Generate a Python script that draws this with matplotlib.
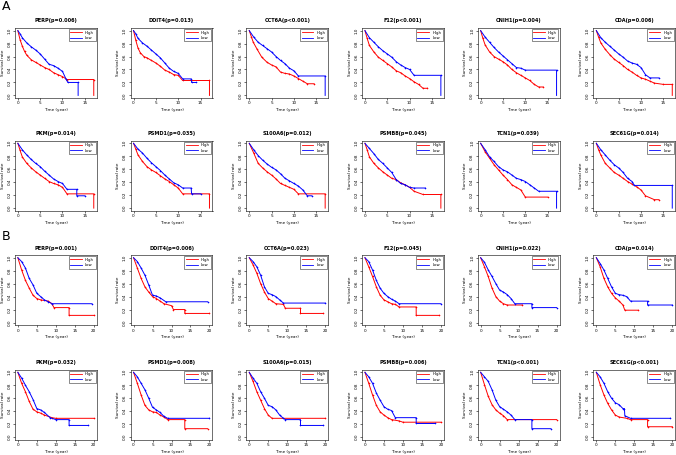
"""Kaplan-Meier survival panels for the twelve genes (A: training set, B: validation set)."""

import matplotlib.pyplot as plt
from matplotlib.lines import Line2D

# ---- panel titles -------------------------------------------------------
A_TITLES = ["PERP(p=0.006)", "DDIT4(p=0.013)", "CCT6A(p<0.001)", "F12(p<0.001)",
            "CNIH1(p=0.004)", "CDA(p=0.006)", "PKM(p=0.014)", "PSMD1(p=0.035)",
            "S100A6(p=0.012)", "PSMB8(p=0.045)", "TCN1(p=0.039)", "SEC61G(p=0.014)"]
B_TITLES = ["PERP(p=0.001)", "DDIT4(p=0.006)", "CCT6A(p=0.023)", "F12(p=0.045)",
            "CNIH1(p=0.022)", "CDA(p=0.014)", "PKM(p=0.032)", "PSMD1(p=0.008)",
            "S100A6(p=0.015)", "PSMB8(p=0.006)", "TCN1(p<0.001)", "SEC61G(p<0.001)"]

# ---- survival curves: (time in years, survival) -------------------------
# a repeated time means a vertical drop
a_perp_high = [(0, 1), (0.5, .86), (1, .76), (1.5, .68), (2, .62), (3, .55), (4, .51), (5, .47), (6, .43),
               (7, .40), (8, .35), (9, .32), (10, .29), (11, .245), (17, .245), (17, 0)]
a_perp_low = [(0, 1), (0.5, .95), (1, .89), (2, .81), (3, .75), (4, .70), (5, .64), (6, .56), (7, .48),
              (8, .46), (9, .42), (10, .37), (10.8, .25), (11.2, .20), (13.5, .20), (13.5, 0)]
a_ddit4_high = [(0, 1), (0.5, .85), (1, .73), (1.5, .66), (2.3, .60), (3, .58), (4, .54), (5, .50), (6, .45),
                (7, .39), (8, .36), (9, .32), (10, .31), (11, .23), (17, .23), (17, 0)]
a_ddit4_low = [(0, 1), (0.5, .95), (1, .88), (2, .81), (3, .76), (4, .70), (5, .64), (6, .58), (7, .50),
               (8, .42), (9, .37), (10, .34), (11, .255), (12.9, .255), (13, .20), (14, .20)]
a_cct6a_high = [(0, 1), (0.5, .90), (0.9, .82), (1.7, .72), (2.8, .59), (4, .51), (5, .47), (6, .44), (7, .36),
                (8, .34), (9, .33), (10, .30), (11, .26), (12, .22), (13, .18), (14.5, .18)]
a_cct6a_low = [(0, 1), (1, .90), (2, .82), (3, .77), (4, .72), (5, .67), (6, .60), (7, .54), (8, .49),
               (9, .42), (10, .38), (11, .30), (17, .30), (17, 0)]
a_f12_high = [(0, 1), (0.5, .88), (1, .77), (2, .67), (3, .59), (4, .54), (5, .49), (6, .44), (7, .38),
              (8, .35), (9, .30), (10, .26), (11, .21), (12, .17), (13, .11), (14, .11)]
a_f12_low = [(0, 1), (1, .89), (2, .82), (3, .75), (4, .69), (5, .64), (6, .59), (7, .52), (8, .47),
             (9, .43), (10, .40), (11, .31), (17, .31), (17, 0)]
a_cnih1_high = [(0, 1), (0.5, .88), (1, .78), (2, .67), (3, .60), (4, .56), (5, .52), (6, .47), (7, .40),
                (8, .35), (9, .31), (10, .27), (11, .23), (12, .17), (13, .13), (14, .13)]
a_cnih1_low = [(0, 1), (1, .90), (2, .82), (3, .74), (4, .67), (5, .61), (6, .55), (7, .49), (8, .43),
               (9, .42), (10, .39), (17, .39), (17, 0)]
a_cda_high = [(0, 1), (0.5, .90), (1, .81), (2, .71), (3, .63), (4, .56), (5, .51), (6, .46), (7, .40),
              (8, .36), (9, .31), (10, .27), (11, .25), (12, .22), (13, .19), (15, .17), (17, .17), (17, 0)]
a_cda_low = [(0, 1), (1, .89), (2, .82), (3, .76), (4, .70), (5, .64), (6, .59), (7, .53), (8, .50),
             (9, .48), (10, .43), (11, .32), (12, .27), (14, .27)]
a_pkm_high = [(0, 1), (0.5, .89), (1, .79), (2, .69), (3, .62), (4, .56), (5, .51), (6, .46), (7, .41),
              (8, .38), (9, .36), (10, .32), (11, .22), (17, .22), (17, 0)]
a_pkm_low = [(0, 1), (1, .90), (2, .82), (3, .75), (4, .69), (5, .64), (6, .57), (7, .51), (8, .45),
             (9, .41), (10, .38), (11, .29), (13.2, .29), (13.2, .19), (15, .19)]
a_psmd1_high = [(0, 1), (0.5, .91), (1, .82), (2, .72), (3, .64), (4, .59), (5, .55), (6, .50), (7, .45),
                (8, .41), (9, .36), (10, .31), (11, .22), (17, .22), (17, 0)]
a_psmd1_low = [(0, 1), (1, .91), (2, .85), (3, .77), (4, .70), (5, .64), (6, .58), (7, .51), (8, .45),
               (9, .39), (10, .36), (11, .31), (12.9, .31), (13, .22), (15, .22)]
a_s100a6_high = [(0, 1), (1, .85), (2, .69), (3, .62), (4, .56), (5, .51), (6, .45), (7, .38), (8, .35),
                 (9, .32), (10, .29), (11, .22), (17, .22), (17, 0)]
a_s100a6_low = [(0, 1), (1, .90), (2, .81), (3, .74), (4, .68), (5, .63), (6, .59), (7, .53), (8, .46),
                (9, .42), (10, .38), (11, .34), (12, .28), (13, .19), (14, .19)]
a_psmb8_high = [(0, 1), (0.5, .90), (1, .79), (2, .69), (3, .62), (4, .56), (5, .51), (6, .46), (7, .44),
                (8, .39), (9, .36), (10, .32), (11, .26), (13, .21), (17, .21), (17, 0)]
a_psmb8_low = [(0, 1), (1, .92), (2, .84), (3, .75), (4, .69), (5, .62), (6, .55), (7, .44), (8, .38),
               (9, .36), (10, .32), (11, .31), (13.5, .31)]
a_tcn1_high = [(0, 1), (1, .87), (2, .77), (3, .67), (4, .59), (5, .51), (6, .44), (7, .36), (8, .32),
               (9, .28), (10, .17), (15, .17)]
a_tcn1_low = [(0, 1), (1, .90), (2, .79), (3, .72), (4, .64), (5, .59), (6, .56), (7, .51), (8, .46),
              (9, .44), (10, .41), (11, .36), (12, .31), (13, .26), (17, .26), (17, 0)]
a_sec61g_high = [(0, 1), (0.5, .90), (1, .82), (2, .69), (3, .62), (4, .55), (5, .51), (6, .46), (7, .41),
                 (8, .37), (9, .33), (10, .28), (11, .19), (13, .13), (14, .13)]
a_sec61g_low = [(0, 1), (1, .90), (2, .82), (3, .74), (4, .67), (5, .62), (6, .55), (7, .46), (8, .41),
                (8.5, .35), (17, .35), (17, 0)]

b_perp_high = [(0, 1), (1, .81), (2, .65), (3, .53), (4, .42), (5, .37), (6, .35), (8, .33), (9, .29),
               (9.5, .23), (13.5, .23), (13.5, .11), (20, .11)]
b_perp_low = [(0, 1), (1, .94), (2, .84), (3, .68), (4, .58), (5, .45), (6, .40), (7, .35), (8, .32),
              (9, .29), (19.5, .29)]
b_ddit4_high = [(0, 1), (1, .84), (2, .68), (3, .55), (4, .47), (5, .40), (6, .37), (7, .33), (8, .29),
                (10, .26), (10.5, .20), (13.5, .20), (13.5, .14), (20, .14)]
b_ddit4_low = [(0, 1), (1, .94), (2, .84), (3, .73), (4, .58), (5, .42), (6, .41), (7, .38), (8.5, .32),
               (19.5, .32)]
b_cct6a_high = [(0, 1), (1, .89), (2, .76), (3, .60), (4, .47), (5, .37), (6, .33), (7, .29), (9, .28),
                (9.5, .22), (13.5, .22), (13.5, .14), (19.5, .14)]
b_cct6a_low = [(0, 1), (1, .94), (2, .86), (3, .73), (4, .55), (5, .45), (6, .43), (7, .40), (8, .35),
               (9, .30), (20, .30)]
b_f12_high = [(0, 1), (1, .86), (2, .71), (3, .55), (4, .42), (5, .35), (6, .32), (7, .29), (8, .28),
              (9, .24), (13.5, .24), (13.5, .11), (19.5, .11)]
b_f12_low = [(0, 1), (1, .94), (2, .81), (3, .65), (4, .53), (5, .45), (6, .40), (7, .36), (8, .33),
             (9, .29), (20, .29)]
b_cnih1_high = [(0, 1), (1, .86), (2, .71), (3, .53), (4, .40), (5, .33), (6, .29), (7, .27), (11, .27)]
b_cnih1_low = [(0, 1), (1, .93), (2, .81), (3, .71), (4, .60), (5, .50), (6, .47), (7, .43), (8, .37),
               (9, .29), (13.5, .29), (13.5, .23), (20, .23)]
b_cda_high = [(0, 1), (1, .86), (2, .68), (3, .55), (4, .45), (5, .38), (6, .33), (7, .27), (7.5, .19),
              (11, .19)]
b_cda_low = [(0, 1), (1, .91), (2, .81), (3, .68), (4, .55), (5, .45), (6, .43), (7, .42), (8, .40),
             (9, .33), (13.5, .33), (13.5, .27), (20, .27)]
b_pkm_high = [(0, 1), (1, .83), (2, .70), (3, .55), (4, .43), (5, .39), (6, .37), (7, .34), (9, .30),
              (10, .29), (20, .29)]
b_pkm_low = [(0, 1), (1, .91), (2, .80), (3, .70), (4, .58), (5, .44), (6, .42), (7, .38), (8.5, .30),
             (10, .27), (13.5, .27), (13.5, .18), (18.5, .18)]
b_psmd1_high = [(0, 1), (1, .83), (2, .65), (3, .49), (4, .42), (5, .39), (6, .38), (7, .34), (8, .31),
                (9, .27), (13.5, .27), (13.5, .13), (19.5, .13)]
b_psmd1_low = [(0, 1), (1, .93), (2, .83), (3, .73), (4, .60), (5, .46), (6, .42), (7, .38), (8, .32),
               (9, .29), (20, .29)]
b_s100a6_high = [(0, 1), (1, .86), (2, .70), (3, .57), (4, .44), (5, .34), (6, .29), (20, .29)]
b_s100a6_low = [(0, 1), (1, .91), (2, .83), (3, .70), (4, .60), (5, .49), (6, .47), (7, .42), (8, .34),
                (9, .29), (9.5, .27), (13.5, .27), (13.5, .18), (19.5, .18)]
b_psmb8_high = [(0, 1), (1, .83), (2, .65), (3, .49), (4, .39), (5, .34), (6, .30), (7, .27), (9, .25),
                (10, .23), (20, .23)]
b_psmb8_low = [(0, 1), (1, .93), (2, .83), (3, .68), (4, .57), (5, .47), (6, .43), (7, .41), (8, .30),
               (13.5, .30), (13.5, .21), (18.5, .21)]
b_tcn1_high = [(0, 1), (1, .81), (2, .63), (3, .50), (4, .42), (5, .37), (6, .33), (7, .27), (20, .27)]
b_tcn1_low = [(0, 1), (1, .93), (2, .86), (3, .73), (4, .57), (5, .47), (6, .43), (7, .39), (8, .34),
              (9, .27), (13.5, .27), (13.5, .13), (18.5, .13)]
b_sec61g_high = [(0, 1), (1, .81), (2, .65), (3, .52), (4, .42), (5, .34), (6, .31), (8, .29), (9, .27),
                 (13.5, .27), (13.5, .16), (20, .16)]
b_sec61g_low = [(0, 1), (1, .93), (2, .83), (3, .70), (4, .60), (5, .53), (6, .50), (7, .44), (7.4, .44),
                (7.5, .33), (9, .29), (19.5, .29)]

A_CURVES = [(a_perp_high, a_perp_low), (a_ddit4_high, a_ddit4_low), (a_cct6a_high, a_cct6a_low),
            (a_f12_high, a_f12_low), (a_cnih1_high, a_cnih1_low), (a_cda_high, a_cda_low),
            (a_pkm_high, a_pkm_low), (a_psmd1_high, a_psmd1_low), (a_s100a6_high, a_s100a6_low),
            (a_psmb8_high, a_psmb8_low), (a_tcn1_high, a_tcn1_low), (a_sec61g_high, a_sec61g_low)]
B_CURVES = [(b_perp_high, b_perp_low), (b_ddit4_high, b_ddit4_low), (b_cct6a_high, b_cct6a_low),
            (b_f12_high, b_f12_low), (b_cnih1_high, b_cnih1_low), (b_cda_high, b_cda_low),
            (b_pkm_high, b_pkm_low), (b_psmd1_high, b_psmd1_low), (b_s100a6_high, b_s100a6_low),
            (b_psmb8_high, b_psmb8_low), (b_tcn1_high, b_tcn1_low), (b_sec61g_high, b_sec61g_low)]

A_XMAX, A_XTICKS = 17, [0, 5, 10, 15]
B_XMAX, B_XTICKS = 20, [0, 5, 10, 15, 20]

W, H = 676, 455
ROW_TOPS = [28, 140.7, 255.1, 369.7]  # pixel tops of the four rows of boxes
BOX_H = 70
BOX_W = 82
COL_LEFT0, COL_STEP = 14.8, 115.7


def draw_km(ax, title, high, low, xmax, xticks):
    """One Kaplan-Meier panel in the style of R's base plot."""
    for curve, color in ((high, "red"), (low, "blue")):
        t = [p[0] for p in curve]
        s = [p[1] for p in curve]
        ax.plot(t, s, color=color, lw=0.7)
        mt = [p[0] for p in curve[1:] if p[1] > 0]
        ms = [p[1] for p in curve[1:] if p[1] > 0]
        ax.plot(mt, ms, "+", color=color, ms=1.5, mew=0.4)
    pad = 0.04 * xmax
    ax.set_xlim(-pad, xmax + pad)
    ax.set_ylim(-0.04, 1.04)
    ax.set_xticks(xticks)
    ax.set_yticks([0, 0.2, 0.4, 0.6, 0.8, 1.0])
    ax.set_yticklabels(["0.0", "0.2", "0.4", "0.6", "0.8", "1.0"], rotation=90, va="center")
    ax.tick_params(labelsize=3, length=1.5, width=0.4, pad=1)
    for sp in ax.spines.values():
        sp.set_linewidth(0.4)
    ax.set_title(title, fontsize=3.6, fontweight="bold", pad=4)
    ax.set_xlabel("Time (year)", fontsize=3, labelpad=2)
    ax.set_ylabel("Survival rate", fontsize=3, labelpad=2)
    handles = [Line2D([], [], color="red", lw=0.6), Line2D([], [], color="blue", lw=0.6)]
    leg = ax.legend(handles, ["High", "Low"], loc="upper right", fontsize=2.8, handlelength=3,
                    frameon=True, fancybox=False, borderaxespad=0.3, borderpad=0.4,
                    labelspacing=0.3, handletextpad=0.8)
    leg.get_frame().set_edgecolor("black")
    leg.get_frame().set_linewidth(0.4)


fig = plt.figure(figsize=(W / 100, H / 100), dpi=100)

panels = [(A_TITLES, A_CURVES, A_XMAX, A_XTICKS, 0), (B_TITLES, B_CURVES, B_XMAX, B_XTICKS, 2)]
for titles, curves, xmax, xticks, row0 in panels:
    for k, (title, (high, low)) in enumerate(zip(titles, curves)):
        row = row0 + k // 6
        col = k % 6
        left = COL_LEFT0 + COL_STEP * col
        top = ROW_TOPS[row]
        ax = fig.add_axes([left / W, 1 - (top + BOX_H) / H, BOX_W / W, BOX_H / H])
        draw_km(ax, title, high, low, xmax, xticks)

fig.text(2 / W, 1 - 6 / H, "A", fontsize=9, va="center", ha="left")
fig.text(2 / W, 1 - 236 / H, "B", fontsize=9, va="center", ha="left")

fig.savefig("out.png", dpi=100)
